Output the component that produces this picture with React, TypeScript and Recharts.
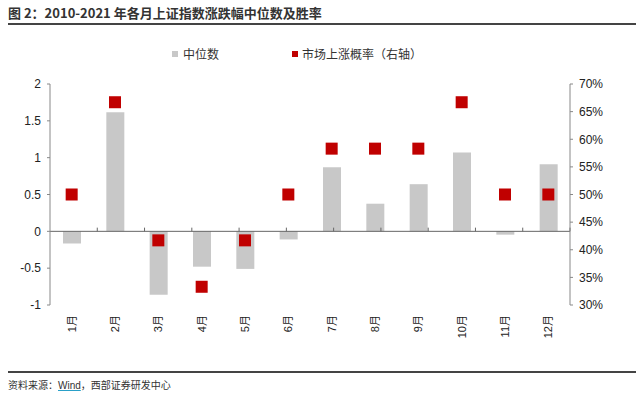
import React from 'react';
import {
  ComposedChart,
  Bar,
  Scatter,
  XAxis,
  YAxis,
  ReferenceLine
} from 'recharts';

const months = ['1月', '2月', '3月', '4月', '5月', '6月', '7月', '8月', '9月', '10月', '11月', '12月'];
const medianChange = [-0.165, 1.615, -0.86, -0.48, -0.51, -0.11, 0.87, 0.375, 0.64, 1.07, -0.045, 0.91];
const upRate = [0.5, 0.667, 0.417, 0.333, 0.417, 0.5, 0.583, 0.583, 0.583, 0.667, 0.5, 0.5];
const leftTicks = [-1, -0.5, 0, 0.5, 1, 1.5, 2];
const rightTicks = [0.3, 0.35, 0.4, 0.45, 0.5, 0.55, 0.6, 0.65, 0.7];
const boundaries = [1, 2, 3, 4, 5, 6, 7, 8, 9, 10, 11, 12];

const data = months.map((m, i) => ({ month: m, median: medianChange[i], rate: upRate[i] }));

const FONT = 'Arial, "Liberation Sans", "Noto Sans CJK SC", sans-serif';
const CJK = '"Noto Sans CJK SC", sans-serif';

const MonthTick = (props: any) => {
  const { x, y, payload } = props;
  return (
    <text
      x={0}
      y={0}
      transform={`translate(${x + 4},${y + 2}) rotate(-90)`}
      textAnchor="end"
      fontSize={11}
      fill="#222"
      fontFamily={FONT}
    >
      {payload.value}
    </text>
  );
};

const SquareDot = (props: any) => {
  const { cx, cy } = props;
  return <rect x={cx - 6} y={cy - 6} width={12} height={12} fill="#C00000" />;
};

export default function App() {
  return (
    <div style={{ position: 'fixed', left: 0, top: 0, width: 640, height: 394, background: '#fff', fontFamily: CJK }}>
      <div style={{ position: 'absolute', left: 8, top: 3, fontSize: 13, fontWeight: 'bold', color: '#333', whiteSpace: 'nowrap' }}>
        图 2：2010-2021 年各月上证指数涨跌幅中位数及胜率
      </div>
      <div style={{ position: 'absolute', left: 8, top: 23, width: 628, height: 2, background: '#444' }} />

      {/* legend */}
      <div style={{ position: 'absolute', left: 172, top: 45, fontSize: 12, color: '#333', display: 'flex', alignItems: 'center', whiteSpace: 'nowrap' }}>
        <span style={{ width: 6, height: 6, background: '#C8C8C8', display: 'inline-block', marginRight: 5 }} />
        中位数
      </div>
      <div style={{ position: 'absolute', left: 292, top: 45, fontSize: 12, color: '#333', display: 'flex', alignItems: 'center', whiteSpace: 'nowrap' }}>
        <span style={{ width: 6, height: 6, background: '#C00000', display: 'inline-block', marginRight: 4 }} />
        市场上涨概率（右轴）
      </div>

      <div style={{ position: 'absolute', left: 0, top: 0 }}>
        <ComposedChart
          width={640}
          height={394}
          data={data}
          margin={{ top: 84, right: 20, bottom: 49, left: 10 }}
          barCategoryGap={0}
        >
          <XAxis
            dataKey="month"
            axisLine={false}
            tickLine={false}
            interval={0}
            height={40}
            tick={<MonthTick />}
          />
          <XAxis xAxisId="n" type="number" domain={[0, 12]} hide />
          <YAxis
            yAxisId="left"
            domain={[-1, 2]}
            ticks={leftTicks}
            width={40}
            tick={{ fontSize: 12, fill: '#222', fontFamily: FONT }}
            tickFormatter={(v: number) => String(v)}
            axisLine={{ stroke: '#888' }}
            tickLine={{ stroke: '#888' }}
            tickSize={3}
            tickMargin={6}
          />
          <YAxis
            yAxisId="right"
            orientation="right"
            domain={[0.3, 0.7]}
            ticks={rightTicks}
            width={50}
            tick={{ fontSize: 12, fill: '#222', fontFamily: FONT }}
            tickFormatter={(v: number) => `${Math.round(v * 100)}%`}
            axisLine={{ stroke: '#888' }}
            tickLine={{ stroke: '#888' }}
            tickSize={3}
            tickMargin={6}
          />
          <Bar yAxisId="left" dataKey="median" fill="#C8C8C8" barSize={18} isAnimationActive={false} />
          <ReferenceLine yAxisId="left" y={0} stroke="#666" strokeWidth={1} />
          {boundaries.map((b) => (
            <ReferenceLine
              key={b}
              xAxisId="n"
              yAxisId="left"
              segment={[{ x: b, y: 0 }, { x: b, y: 0.05 }]}
              stroke="#666"
            />
          ))}
          <Scatter yAxisId="right" dataKey="rate" shape={<SquareDot />} isAnimationActive={false} />
        </ComposedChart>
      </div>

      <div style={{ position: 'absolute', left: 8, top: 371, width: 628, height: 2, background: '#444' }} />
      <div style={{ position: 'absolute', left: 8, top: 377, fontSize: 10, color: '#333', whiteSpace: 'nowrap' }}>
        资料来源：<span style={{ fontFamily: FONT, textDecoration: 'underline', textDecorationColor: '#2aa0c8' }}>Wind</span>，西部证券研发中心
      </div>
    </div>
  );
}
